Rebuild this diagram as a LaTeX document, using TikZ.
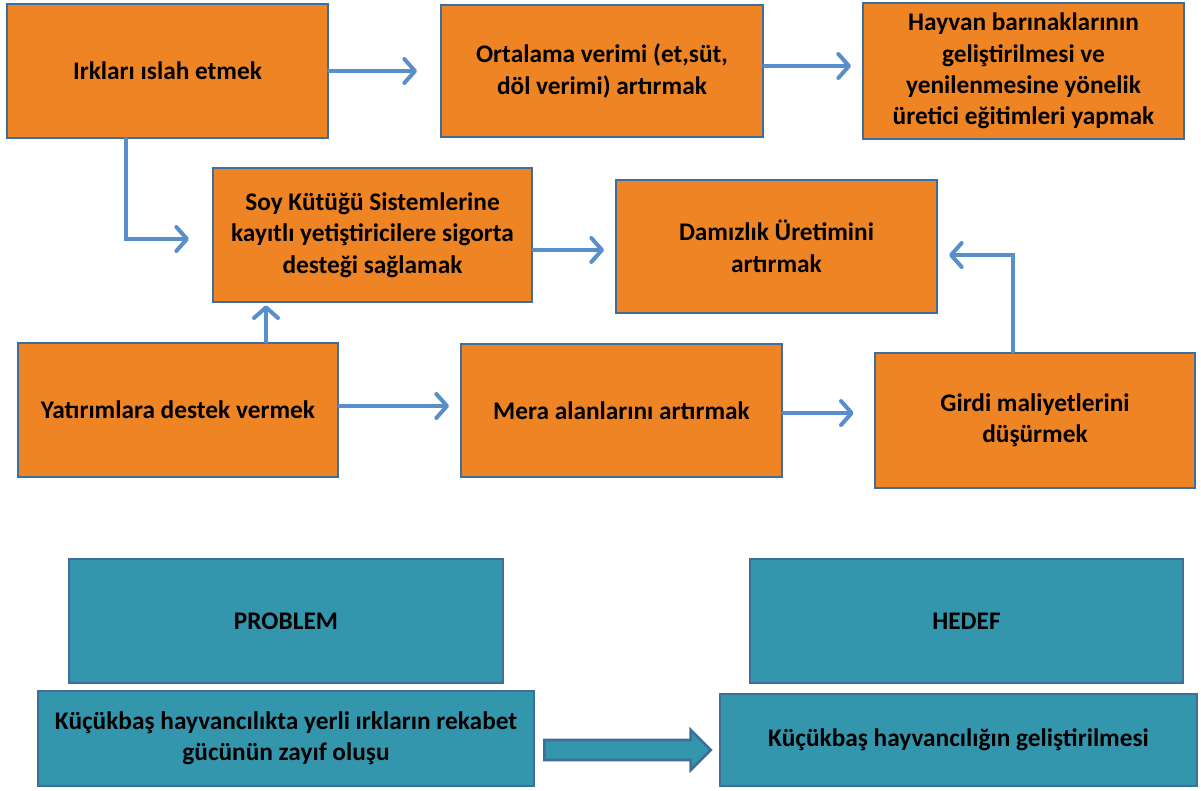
\documentclass[tikz,border=0pt]{standalone}
\usepackage{fontspec}
\setmainfont{Carlito}
\usetikzlibrary{arrows.meta,positioning}
\definecolor{boxorange}{RGB}{238,132,36}
\definecolor{boxteal}{RGB}{52,150,172}
\definecolor{boxedge}{RGB}{64,110,156}
\definecolor{arrowblue}{RGB}{88,143,202}

\begin{document}
\begin{tikzpicture}[x=0.75pt,y=-0.75pt,
    >={Straight Barb[length=8pt,width=18pt,round]},
    box/.style={draw=boxedge,line width=2pt,fill=boxorange,align=center,
        font=\bfseries\fontsize{19}{23.6}\selectfont,inner sep=0pt},
    goal/.style={box,fill=boxteal},
    link/.style={->,draw=arrowblue,line width=3pt,line cap=round},
    bigarrow/.style={draw=boxedge,line width=2pt,fill=boxteal}]
    \useasboundingbox (0,0) rectangle (1201,791);
    % orange boxes
    \node[box,minimum width=240.75pt,minimum height=100.5pt] (irk) at (167.5,71) {Irkları ıslah etmek};
    \node[box,minimum width=241.5pt,minimum height=99pt] (ort) at (602,71) {Ortalama verimi (et,süt,\\döl verimi) artırmak};
    \node[box,minimum width=240.75pt,minimum height=102pt] (hay) at (1023.5,71) {Hayvan barınaklarının\\geliştirilmesi ve\\yenilenmesine yönelik\\üretici eğitimleri yapmak};
    \node[box,minimum width=239.25pt,minimum height=100.5pt] (soy) at (372.5,235) {Soy Kütüğü Sistemlerine\\kayıtlı yetiştiricilere sigorta\\desteği sağlamak};
    \node[box,minimum width=240.75pt,minimum height=99.75pt] (dam) at (776.5,246.5) {Damızlık Üretimini\\artırmak};
    \node[box,minimum width=240pt,minimum height=100.5pt] (yat) at (178,410) {Yatırımlara destek vermek};
    \node[box,minimum width=240.75pt,minimum height=99.75pt] (mera) at (621.5,410.5) {Mera alanlarını artırmak};
    \node[box,minimum width=240pt,minimum height=101.25pt] (girdi) at (1035,420.5) {Girdi maliyetlerini\\düşürmek};
    % teal boxes
    \node[goal,minimum width=325.5pt,minimum height=93pt] (prob) at (286,621) {PROBLEM};
    \node[goal,minimum width=324.75pt,minimum height=93pt] (hedef) at (966.5,621) {HEDEF};
    \node[goal,minimum width=372pt,minimum height=71.25pt] (pb) at (286,738.5) {Küçükbaş hayvancılıkta yerli ırkların rekabet\\gücünün zayıf oluşu};
    \node[goal,minimum width=357.75pt,minimum height=69pt] (hb) at (958.5,740) {Küçükbaş hayvancılığın geliştirilmesi};
    % connectors
    \coordinate (ortout) at ([yshift=3.75pt]ort.east);
    \coordinate (irkdown) at ([xshift=-31.5pt]irk.south);
    \coordinate (soyin) at ([yshift=-3pt]soy.west);
    \coordinate (soyout) at ([yshift=-11.25pt]soy.east);
    \coordinate (yatup) at ([xshift=66pt]yat.north);
    \coordinate (yatout) at ([yshift=3pt]yat.east);
    \coordinate (meraout) at ([yshift=-1.9pt]mera.east);
    \coordinate (girdiup) at ([xshift=-16.5pt]girdi.north);
    \coordinate (damin) at ([yshift=-6.4pt]dam.east);
    \draw[link,shorten >=17pt] (irk.east) -- (irk.east -| ort.west);
    \draw[link,shorten >=8pt] (ortout) -- (ortout -| hay.west);
    \draw[link,shorten >=17pt] (irkdown) |- (soyin);
    \draw[link,shorten >=8pt] (soyout) -- (soyout -| dam.west);
    \draw[link,shorten >=1.5pt] (yatup) -- (yatup |- soy.south);
    \draw[link,shorten >=8pt] (yatout) -- (yatout -| mera.west);
    \draw[link,shorten >=15pt] (meraout) -- (meraout -| girdi.west);
    \draw[link,shorten >=8pt] (girdiup) |- (damin);
    % block arrow
    \coordinate (bl) at ([xshift=6.75pt,yshift=-8.6pt]pb.east);
    \coordinate (bx) at (hb.west |- bl);
    \coordinate (bt) at ([xshift=-6pt]bx);
    \draw[bigarrow] ([shift={(0,-10)}]bl) -- ([shift={(-20,-10)}]bt) -- ([shift={(-20,-20)}]bt) -- (bt)
        -- ([shift={(-20,20)}]bt) -- ([shift={(-20,10)}]bt) -- ([shift={(0,10)}]bl) -- cycle;
\end{tikzpicture}
\end{document}
